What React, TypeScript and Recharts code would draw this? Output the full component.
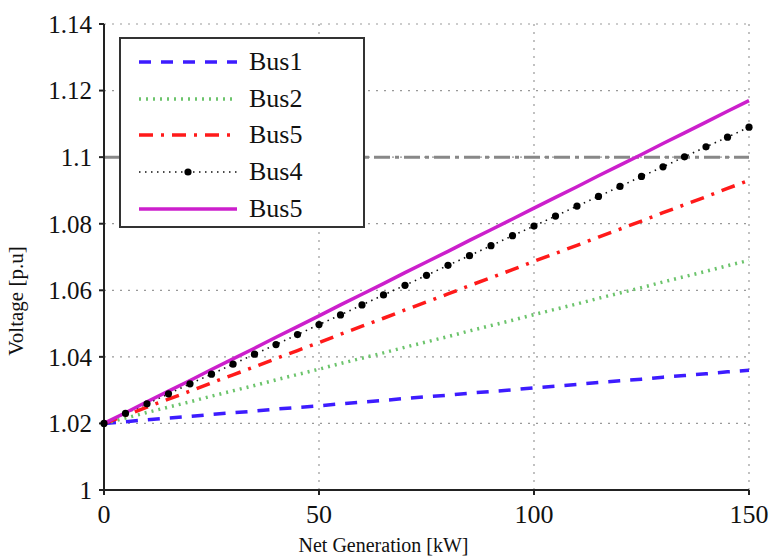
import {
  LineChart,
  Line,
  CartesianGrid,
  XAxis,
  YAxis,
  Legend,
  ReferenceLine,
} from 'recharts';

// net generation in kW, one sample every 5 kW
const netGen = [
  0, 5, 10, 15, 20, 25, 30, 35, 40, 45, 50, 55, 60, 65, 70, 75, 80, 85, 90, 95, 100, 105, 110, 115,
  120, 125, 130, 135, 140, 145, 150,
];

// bus voltages in p.u.
const bus1 = [
  1.02, 1.0205, 1.0211, 1.0216, 1.0221, 1.0227, 1.0232, 1.0237, 1.0243, 1.0248, 1.0253, 1.0259,
  1.0264, 1.0269, 1.0275, 1.028, 1.0285, 1.0291, 1.0296, 1.0301, 1.0307, 1.0312, 1.0317, 1.0323,
  1.0328, 1.0333, 1.0339, 1.0344, 1.0349, 1.0355, 1.036,
];
const bus2 = [
  1.02, 1.0216, 1.0233, 1.0249, 1.0265, 1.0282, 1.0298, 1.0314, 1.0331, 1.0347, 1.0363, 1.038,
  1.0396, 1.0412, 1.0429, 1.0445, 1.0461, 1.0478, 1.0494, 1.051, 1.0527, 1.0543, 1.0559, 1.0576,
  1.0592, 1.0608, 1.0625, 1.0641, 1.0657, 1.0674, 1.069,
];
const bus3 = [
  1.02, 1.0224, 1.0249, 1.0273, 1.0297, 1.0322, 1.0346, 1.037, 1.0395, 1.0419, 1.0443, 1.0468,
  1.0492, 1.0516, 1.0541, 1.0565, 1.0589, 1.0614, 1.0638, 1.0662, 1.0687, 1.0711, 1.0735, 1.076,
  1.0784, 1.0808, 1.0833, 1.0857, 1.0881, 1.0906, 1.093,
];
const bus4 = [
  1.02, 1.023, 1.0259, 1.0289, 1.0319, 1.0348, 1.0378, 1.0408, 1.0437, 1.0467, 1.0497, 1.0526,
  1.0556, 1.0586, 1.0615, 1.0645, 1.0675, 1.0704, 1.0734, 1.0764, 1.0793, 1.0823, 1.0853, 1.0882,
  1.0912, 1.0942, 1.0971, 1.1001, 1.1031, 1.106, 1.109,
];
const bus5 = [
  1.02, 1.0232, 1.0265, 1.0297, 1.0329, 1.0362, 1.0394, 1.0426, 1.0459, 1.0491, 1.0523, 1.0556,
  1.0588, 1.062, 1.0653, 1.0685, 1.0717, 1.075, 1.0782, 1.0814, 1.0847, 1.0879, 1.0911, 1.0944,
  1.0976, 1.1008, 1.1041, 1.1073, 1.1105, 1.1138, 1.117,
];

const voltageLimit = 1.1;
const xTicks = [0, 50, 100, 150];
const yTicks = [1, 1.02, 1.04, 1.06, 1.08, 1.1, 1.12, 1.14];
const yTickLabels = ['1', '1.02', '1.04', '1.06', '1.08', '1.1', '1.12', '1.14'];

const data = netGen.map((x, i) => ({
  x,
  bus1: bus1[i],
  bus2: bus2[i],
  bus3: bus3[i],
  bus4: bus4[i],
  bus5: bus5[i],
}));

const font = '"Liberation Serif", "Times New Roman", serif';

const series = [
  { key: 'bus1', name: 'Bus1', color: '#3d1cff', width: 3.5, dash: '12 10', dot: false },
  { key: 'bus2', name: 'Bus2', color: '#6cc46c', width: 3.5, dash: '2 5', dot: false },
  { key: 'bus3', name: 'Bus5', color: '#ff1a1a', width: 3.5, dash: '14 8 3 8', dot: false },
  { key: 'bus4', name: 'Bus4', color: '#111111', width: 1.6, dash: '1.5 4.5', dot: true },
  { key: 'bus5', name: 'Bus5', color: '#cc1fcc', width: 3.5, dash: undefined, dot: false },
];

function LegendBox() {
  return (
    <div
      style={{
        width: 246,
        height: 191,
        border: '2px solid #333',
        background: '#fff',
        boxSizing: 'border-box',
        paddingTop: 5,
      }}
    >
      {series.map((s) => (
        <div key={s.key} style={{ display: 'flex', alignItems: 'center', height: 36.6 }}>
          <svg width={112} height={20} style={{ marginLeft: 16 }}>
            <line
              x1={2}
              y1={10}
              x2={100}
              y2={10}
              stroke={s.color}
              strokeWidth={s.width}
              strokeDasharray={s.dash}
            />
            {s.dot && <circle cx={51} cy={10} r={3.6} fill="#000" />}
          </svg>
          <span style={{ fontFamily: font, fontSize: 26, color: '#111', lineHeight: '26px' }}>
            {s.name}
          </span>
        </div>
      ))}
    </div>
  );
}

export default function App() {
  return (
    <div style={{ position: 'absolute', left: 0, top: 0, background: '#fff' }}>
      <LineChart
        width={769}
        height={556}
        data={data}
        margin={{ top: 24, right: 20, bottom: 0, left: 0 }}
      >
        <CartesianGrid stroke="#999" strokeDasharray="2 6" strokeWidth={1.2} />
        <XAxis
          dataKey="x"
          type="number"
          domain={[0, 150]}
          ticks={xTicks}
          height={66}
          stroke="#222"
          strokeWidth={2}
          tickSize={5}
          tickMargin={10}
          tick={{ fontFamily: font, fontSize: 26, fill: '#111' }}
          label={{
            value: 'Net Generation [kW]',
            position: 'insideBottom',
            offset: 4,
            dx: -43,
            style: { fontFamily: font, fontSize: 20, fill: '#111' },
          }}
        />
        <XAxis
          xAxisId="top"
          orientation="top"
          dataKey="x"
          type="number"
          domain={[0, 150]}
          ticks={xTicks}
          height={0}
          stroke="#222"
          strokeWidth={2}
          tick={false}
        />
        <YAxis
          type="number"
          domain={[1, 1.14]}
          ticks={yTicks}
          width={104}
          stroke="#222"
          strokeWidth={2}
          tickSize={5}
          tickMargin={7}
          tickFormatter={(v: number) => yTickLabels[yTicks.indexOf(v)] ?? String(v)}
          tick={{ fontFamily: font, fontSize: 25, fill: '#111' }}
          label={{
            value: 'Voltage [p.u]',
            angle: -90,
            position: 'insideLeft',
            offset: 16,
            dy: 44,
            style: { fontFamily: font, fontSize: 21, fill: '#111', textAnchor: 'middle' },
          }}
        />
        <YAxis
          yAxisId="right"
          orientation="right"
          type="number"
          domain={[1, 1.14]}
          ticks={yTicks}
          width={0}
          stroke="#222"
          strokeWidth={2}
          tick={false}
        />
        <ReferenceLine
          y={voltageLimit}
          stroke="#888"
          strokeWidth={3}
          strokeDasharray="16 5 4 5"
        />
        {series.map((s) => (
          <Line
            key={s.key}
            dataKey={s.key}
            name={s.name}
            type="linear"
            stroke={s.color}
            strokeWidth={s.width}
            strokeDasharray={s.dash}
            dot={s.dot ? { r: 3.6, fill: '#000', stroke: 'none' } : false}
            activeDot={false}
            isAnimationActive={false}
          />
        ))}
        <Legend
          content={() => <LegendBox />}
          layout="vertical"
          align="center"
          verticalAlign="middle"
          wrapperStyle={{ position: 'absolute', left: 119, top: 37, width: 246, height: 191 }}
        />
      </LineChart>
    </div>
  );
}
